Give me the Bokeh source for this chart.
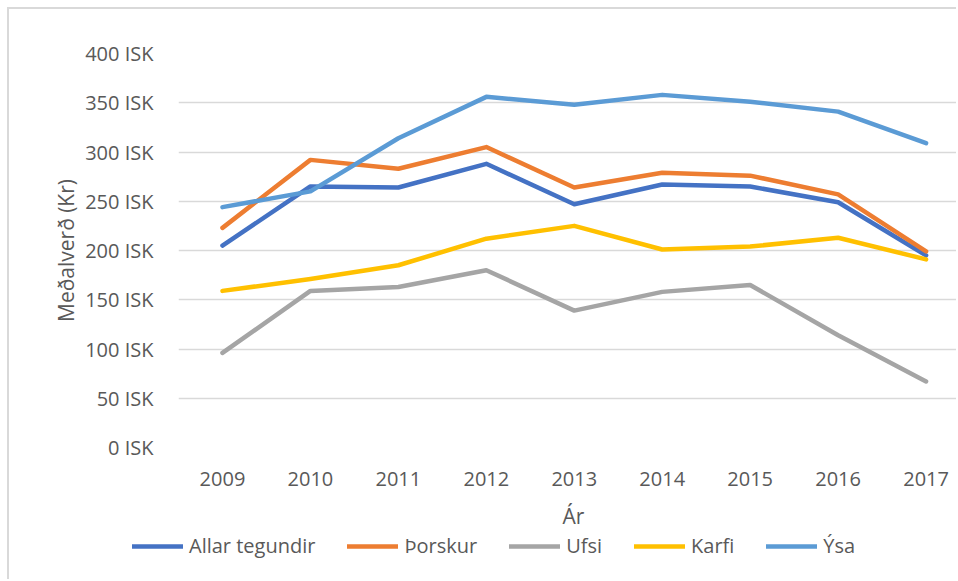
from bokeh.plotting import figure
from bokeh.models import (Range1d, FixedTicker, PrintfTickFormatter, Legend, LegendItem, Label)
from bokeh.embed import file_html
from bokeh.resources import INLINE

years = [2009, 2010, 2011, 2012, 2013, 2014, 2015, 2016, 2017]
allar = [205, 265, 264, 288, 247, 267, 265, 249, 195]
thorskur = [223, 292, 283, 305, 264, 279, 276, 257, 199]
ufsi = [96, 159, 163, 180, 139, 158, 165, 114, 67]
karfi = [159, 171, 185, 212, 225, 201, 204, 213, 191]
ysa = [244, 260, 314, 356, 348, 358, 351, 341, 309]

series_names = ["Allar tegundir", "Þorskur", "Ufsi", "Karfi", "Ýsa"]
series_values = [allar, thorskur, ufsi, karfi, ysa]
colors = ["#4472C4", "#ED7D31", "#A5A5A5", "#FFC000", "#5B9BD5"]
y_ticks = [0, 50, 100, 150, 200, 250, 300, 350, 400]

FONT = "Open Sans"
TXT = "#595959"

p = figure(width=949, height=494, output_backend="svg", toolbar_location=None,
           x_range=Range1d(2008.5, 2008.5 + 780 / 87.95), y_range=Range1d(0, 400),
           min_border_left=169, min_border_right=0, min_border_top=44, min_border_bottom=56)
p.outline_line_color = None
p.background_fill_color = "white"
p.border_fill_color = "white"
p.styles = {"margin-left": "7px", "margin-top": "7px",
            "border-top": "2px solid #d9d9d9", "border-left": "2px solid #d9d9d9"}

for name, vals, c in zip(series_names, series_values, colors):
    p.line(years, vals, line_color=c, line_width=4.5, line_cap="round", line_join="round")

p.xgrid.grid_line_color = None
p.ygrid.grid_line_color = "#d9d9d9"
p.ygrid.grid_line_width = 1.5
p.ygrid.ticker = FixedTicker(ticks=y_ticks)

p.yaxis.ticker = FixedTicker(ticks=y_ticks)
p.yaxis.formatter = PrintfTickFormatter(format="%d ISK")
p.xaxis.ticker = FixedTicker(ticks=years)
for ax in (p.xaxis[0], p.yaxis[0]):
    ax.axis_line_color = None
    ax.major_tick_line_color = None
    ax.minor_tick_line_color = None
    ax.major_label_text_font = FONT
    ax.major_label_text_font_size = "20px"
    ax.major_label_text_color = TXT
p.yaxis.major_label_standoff = 19
p.xaxis.major_label_standoff = 18
p.yaxis.axis_label = "Meðalverð (Kr)"
p.yaxis.axis_label_text_font = FONT
p.yaxis.axis_label_text_font_size = "21px"
p.yaxis.axis_label_text_font_style = "normal"
p.yaxis.axis_label_text_color = TXT
p.yaxis.axis_label_standoff = 2

# lower strip: x-axis title and legend (its own root, so its frame starts at the left edge)
p2 = figure(width=949, height=78, output_backend="svg", toolbar_location=None,
            x_range=Range1d(0, 949), y_range=Range1d(0, 78),
            min_border_left=0, min_border_right=0, min_border_top=0, min_border_bottom=0)
p2.axis.visible = False
p2.grid.grid_line_color = None
p2.outline_line_color = None
p2.border_fill_color = "white"
p2.background_fill_color = "white"
p2.styles = {"margin-left": "7px", "border-left": "2px solid #d9d9d9"}

p2.add_layout(Label(x=564, y=64, text="Ár", text_align="center", text_baseline="middle",
                    text_font=FONT, text_font_size="21px", text_color=TXT))

items = []
for name, vals, c in zip(series_names, series_values, colors):
    # same series, out of this strip's view: only its legend swatch shows
    r = p2.line(years, vals, line_color=c, line_width=4.5, line_cap="round", line_join="round")
    items.append(LegendItem(label=name, renderers=[r]))
legend = Legend(items=items, orientation="horizontal", location=(123, 20),
                padding=0, margin=0, spacing=32, glyph_width=51, glyph_height=20,
                label_standoff=6, label_text_font=FONT, label_text_font_size="20px",
                label_text_color=TXT, border_line_color=None, background_fill_alpha=0)
p2.add_layout(legend, "center")

open("out.html", "w").write(file_html([p, p2], INLINE))
